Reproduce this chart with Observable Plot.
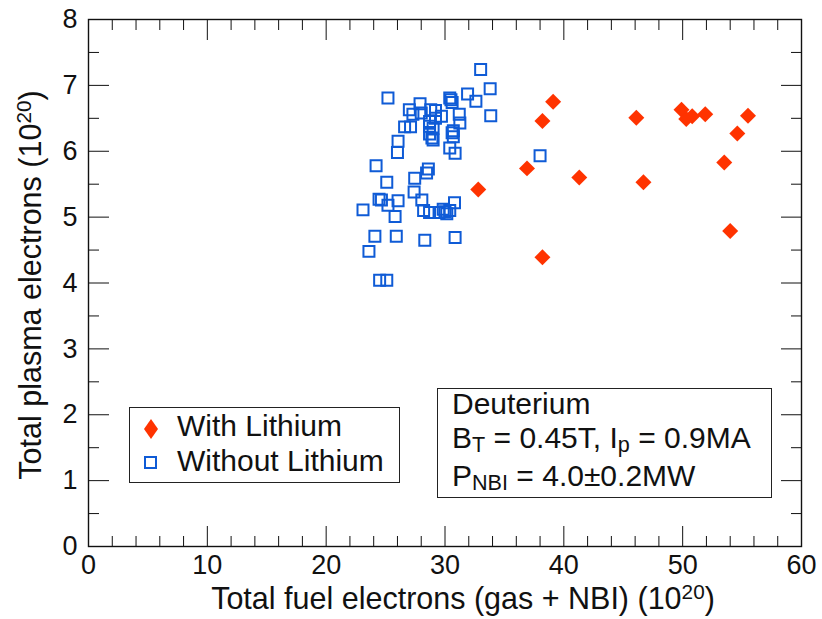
<!DOCTYPE html>
<html><head><meta charset="utf-8">
<script src="https://cdn.jsdelivr.net/npm/d3@7"></script>
<script src="https://cdn.jsdelivr.net/npm/@observablehq/plot@0.6"></script>
<style>
body{margin:0;background:#fff;font-family:"Liberation Sans",Arial,sans-serif;color:#111;}
#wrap{position:relative;width:822px;height:619px;overflow:hidden;}
.box{position:absolute;border:1.4px solid #222;background:#fff;box-sizing:border-box;font-size:30px;line-height:1;}
.ln{position:absolute;white-space:nowrap;line-height:1;}
sub{font-size:0.72em;vertical-align:-0.2em;line-height:0;}
sup{font-size:0.68em;vertical-align:0.45em;line-height:0;}
.title{position:absolute;white-space:nowrap;font-size:30.5px;line-height:1;}
</style></head><body><div id="wrap"></div>
<script>
// With Lithium (red diamonds)
const withLithiumFuel   = [39.1, 38.2, 46.1, 49.9, 50.3, 50.8, 51.9, 55.5, 54.6, 53.5, 36.9, 41.3, 46.7, 32.8, 54.0, 38.2];
const withLithiumPlasma = [6.75, 6.46, 6.51, 6.63, 6.49, 6.53, 6.56, 6.54, 6.27, 5.83, 5.74, 5.60, 5.53, 5.42, 4.79, 4.39];
// Without Lithium (blue squares)
const withoutLithiumFuel   = [33.0, 33.8, 25.2, 31.9, 32.6, 30.4, 30.6, 33.85, 31.2, 31.25, 27.9, 27.0, 27.3, 28.0, 28.8, 29.7, 29.2, 28.7, 26.6, 27.1, 28.7, 29.0, 28.7, 28.9, 30.6, 30.7, 30.7, 30.4, 30.85, 26.05, 26.0, 24.2, 25.1, 28.6, 28.45, 27.45, 27.4, 24.45, 24.65, 25.2, 26.05, 23.1, 25.8, 28.05, 28.2, 28.7, 29.5, 29.85, 30.15, 30.4, 30.8, 24.1, 25.9, 28.3, 30.85, 23.6, 24.5, 25.1, 38.0, 30.0, 29.0, 30.5, 29.2];
const withoutLithiumPlasma = [7.24, 6.95, 6.81, 6.87, 6.76, 6.81, 6.74, 6.54, 6.56, 6.43, 6.72, 6.63, 6.56, 6.58, 6.63, 6.53, 6.50, 6.45, 6.37, 6.37, 6.38, 6.35, 6.26, 6.20, 6.28, 6.22, 6.31, 6.05, 5.97, 6.15, 5.98, 5.78, 5.53, 5.73, 5.67, 5.59, 5.38, 5.27, 5.26, 5.18, 5.25, 5.11, 5.01, 5.26, 5.10, 5.07, 5.07, 5.12, 5.05, 5.10, 5.22, 4.71, 4.71, 4.65, 4.69, 4.48, 4.04, 4.04, 5.93, 5.08, 6.17, 6.78, 6.62];

const xMajor = [0, 10, 20, 30, 40, 50, 60];
const xMinor = [2, 4, 6, 8, 12, 14, 16, 18, 22, 24, 26, 28, 32, 34, 36, 38, 42, 44, 46, 48, 52, 54, 56, 58];
const yMajor = [0, 1, 2, 3, 4, 5, 6, 7, 8];
const yMinor = [0.5, 1.5, 2.5, 3.5, 4.5, 5.5, 6.5, 7.5];

const withLi = withLithiumFuel.map((x, i) => ({x, y: withLithiumPlasma[i]}));
const withoutLi = withoutLithiumFuel.map((x, i) => ({x, y: withoutLithiumPlasma[i]}));

const RED = "#ff3300", BLUE = "#0f5bd6", INK = "#111";
const none = () => "";
const intFmt = d3.format("d");

const chart = Plot.plot({
  width: 822, height: 619,
  marginLeft: 88, marginRight: 21, marginTop: 19, marginBottom: 73,
  x: {domain: [0, 60]},
  y: {domain: [0, 8]},
  style: {fontFamily: "Liberation Sans, Arial, sans-serif", fontSize: "27px", color: INK, background: "transparent"},
  marks: [
    Plot.frame({stroke: INK, strokeWidth: 1.4}),
    // tick labels
    Plot.axisX(xMajor, {anchor: "bottom", tickSize: 0, tickPadding: 8, tickFormat: intFmt, label: null, fill: INK}),
    Plot.axisY(yMajor, {anchor: "left", tickSize: 0, tickPadding: 11, tickFormat: intFmt, label: null, fill: INK}),
    // inward ticks, all four sides
    Plot.axisX(xMajor, {anchor: "bottom", tickSize: -20, tickFormat: none, label: null, stroke: INK}),
    Plot.axisX(xMinor, {anchor: "bottom", tickSize: -10, tickFormat: none, label: null, stroke: INK}),
    Plot.axisX(xMajor, {anchor: "top", tickSize: -20, tickFormat: none, label: null, stroke: INK}),
    Plot.axisX(xMinor, {anchor: "top", tickSize: -10, tickFormat: none, label: null, stroke: INK}),
    Plot.axisY(yMajor, {anchor: "left", tickSize: -21, tickFormat: none, label: null, stroke: INK}),
    Plot.axisY(yMinor, {anchor: "left", tickSize: -11, tickFormat: none, label: null, stroke: INK}),
    Plot.axisY(yMajor, {anchor: "right", tickSize: -21, tickFormat: none, label: null, stroke: INK}),
    Plot.axisY(yMinor, {anchor: "right", tickSize: -11, tickFormat: none, label: null, stroke: INK}),
    // data
    Plot.dot(withoutLi, {x: "x", y: "y", symbol: "square", r: 6.2, stroke: BLUE, strokeWidth: 2, fill: "none"}),
    Plot.dot(withLi, {x: "x", y: "y", symbol: "diamond2", r: 7.2, fill: RED, stroke: "none"})
  ]
});

const wrap = document.getElementById("wrap");
chart.style.position = "absolute";
chart.style.left = "0px";
chart.style.top = "0px";
wrap.appendChild(chart);

function add(html, css, cls) {
  const d = document.createElement("div");
  d.className = cls;
  d.innerHTML = html;
  Object.assign(d.style, css);
  wrap.appendChild(d);
  return d;
}

// axis titles
add("Total fuel electrons (gas + NBI) (10<sup>20</sup>)", {left: "463px", top: "598px", transform: "translate(-50%,-50%)"}, "title");
add("Total plasma electrons (10<sup>20</sup>)", {left: "30px", top: "285px", transform: "translate(-50%,-50%) rotate(-90deg)"}, "title");

// legend
add(
  `<svg style="position:absolute;left:11px;top:9px" width="20" height="24"><path d="M10,2 L17,12 L10,22 L3,12 Z" fill="${RED}"/></svg>
   <div class="ln" style="left:47px;top:3px;">With Lithium</div>
   <svg style="position:absolute;left:11px;top:45px" width="20" height="20"><rect x="4" y="4" width="11" height="11" fill="none" stroke="${BLUE}" stroke-width="2"/></svg>
   <div class="ln" style="left:47px;top:38px;">Without Lithium</div>`,
  {left: "129px", top: "407px", width: "271px", height: "76px"}, "box");

// parameters box
add(
  `<div class="ln" style="left:14px;top:0px;">Deuterium</div>
   <div class="ln" style="left:14px;top:34px;">B<sub>T</sub> = 0.45T, I<sub>p</sub> = 0.9MA</div>
   <div class="ln" style="left:14px;top:72px;">P<sub>NBI</sub> = 4.0±0.2MW</div>`,
  {left: "437px", top: "388px", width: "335px", height: "110px"}, "box");
</script>
</body></html>
